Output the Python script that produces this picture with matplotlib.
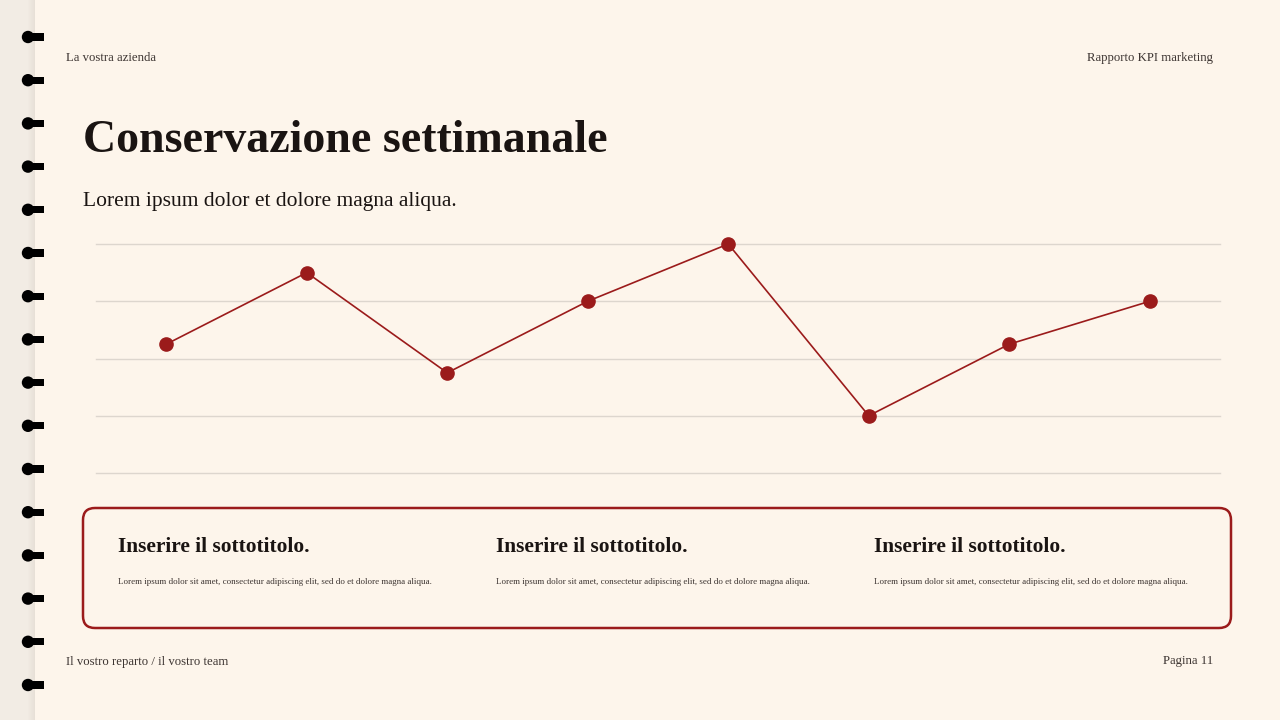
import numpy as np
import matplotlib.pyplot as plt
from matplotlib.patches import Circle, Rectangle, FancyBboxPatch

# data
weeks = ['S1', 'S2', 'S3', 'S4', 'S5', 'S6', 'S7', 'S8']
retention = [45, 70, 35, 60, 80, 20, 45, 60]
grid_ticks = [0, 20, 40, 60, 80]

header_left = 'La vostra azienda'
header_right = 'Rapporto KPI marketing'
title = 'Conservazione settimanale'
subtitle = 'Lorem ipsum dolor et dolore magna aliqua.'
card_titles = ['Inserire il sottotitolo.'] * 3
card_body = 'Lorem ipsum dolor sit amet, consectetur adipiscing elit, sed do et dolore magna aliqua.'
footer_left = 'Il vostro reparto / il vostro team'
footer_right = 'Pagina 11'

BG = '#fdf5eb'
STRIP = '#f2ece4'
RED = '#9b1b1b'
DARK = '#1a1412'
GREY = '#3d3532'
GRID = '#ddd6ce'
SERIF = ['Liberation Serif', 'DejaVu Serif']

W, H = 1280, 720
fig = plt.figure(figsize=(W / 100, H / 100), dpi=100, facecolor=BG)

# page layer in pixel coordinates
page = fig.add_axes([0, 0, 1, 1], zorder=0)
page.set_xlim(0, W)
page.set_ylim(H, 0)
page.axis('off')
page.set_facecolor(BG)

# left binding strip with a soft shadow
page.add_patch(Rectangle((0, 0), 35, H, color=STRIP, lw=0))
for i, a in enumerate(np.linspace(0.0, 0.10, 8)):
    page.add_patch(Rectangle((27 + i, 0), 1, H, color='#8a7a6a', alpha=a, lw=0))

for y in np.arange(37, 700, 43.2):
    page.add_patch(Circle((28, y), 6.2, color='black', lw=0))
    page.add_patch(Rectangle((28, y - 3.6), 16, 7.2, color='black', lw=0))

# header / footer
page.text(66, 58, header_left, fontsize=9.2, color=GREY, family=SERIF, va='center')
page.text(1213, 58, header_right, fontsize=9.2, color=GREY, family=SERIF, va='center', ha='right')
page.text(66, 662, footer_left, fontsize=9.2, color=GREY, family=SERIF, va='center')
page.text(1213, 661, footer_right, fontsize=9.2, color=GREY, family=SERIF, va='center', ha='right')

# title block
page.text(83, 152, title, fontsize=33, fontweight='bold', color=DARK, family=SERIF, va='baseline')
page.text(83, 206, subtitle, fontsize=15.5, color=DARK, family=SERIF, va='baseline')

# cards box
page.add_patch(FancyBboxPatch((83, 508), 1148, 120, boxstyle='round,pad=0,rounding_size=12',
                              fc='none', ec=RED, lw=1.8))
for x0, t in zip([118, 496, 874], card_titles):
    page.text(x0, 552, t, fontsize=15.4, fontweight='bold', color=DARK, family=SERIF, va='baseline')
    page.text(x0, 584, card_body, fontsize=6.5, color=GREY, family=SERIF, va='baseline')

# line chart
ax = fig.add_axes([96 / W, 1 - 473 / H, (1220 - 96) / W, (473 - 244) / H], zorder=1)
ax.set_facecolor('none')
x = np.arange(len(weeks))
ax.plot(x, retention, color=RED, lw=1.2, marker='o', markersize=9.5,
        markerfacecolor=RED, markeredgecolor=RED, clip_on=False, zorder=3)
ax.set_xlim(-0.5, len(weeks) - 0.5)
ax.set_ylim(grid_ticks[0], grid_ticks[-1])
ax.set_yticks(grid_ticks)
ax.grid(axis='y', color=GRID, lw=1)
for gl in ax.get_ygridlines():
    gl.set_clip_on(False)
ax.set_xticks([])
ax.tick_params(axis='y', length=0, labelleft=False)
for s in ax.spines.values():
    s.set_visible(False)

fig.savefig('out.png', dpi=100, facecolor=BG)
